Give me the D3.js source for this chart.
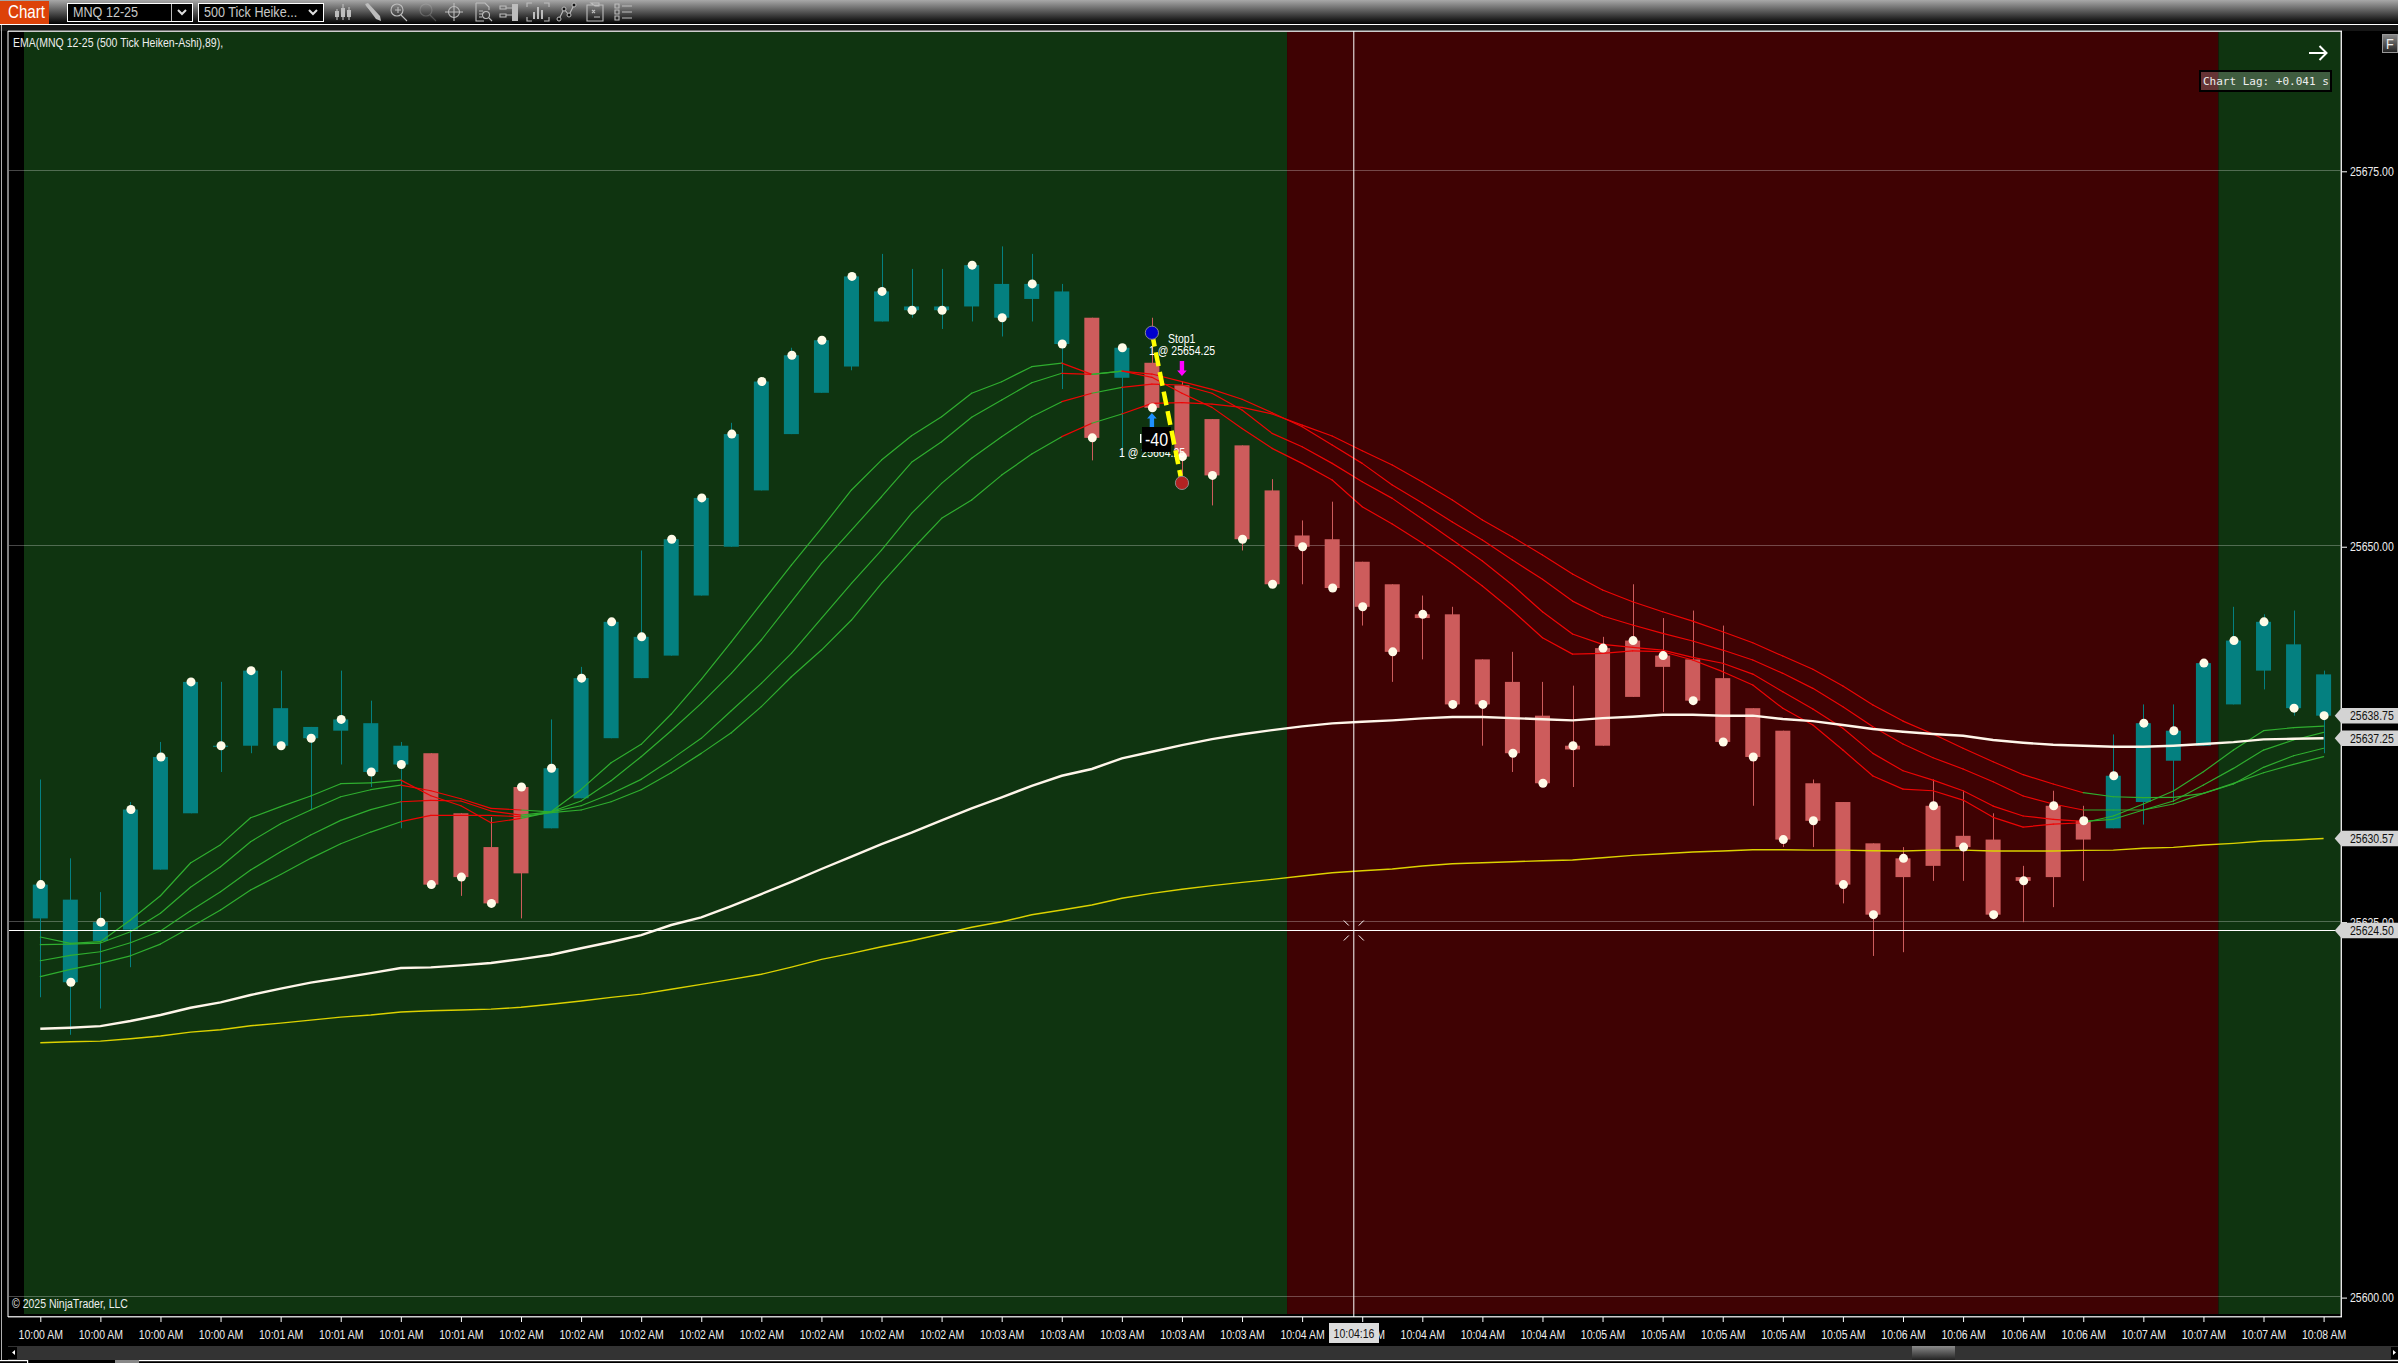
<!DOCTYPE html>
<html><head><meta charset="utf-8">
<script src="https://cdn.jsdelivr.net/npm/d3@7/dist/d3.min.js"></script>
<style>html,body{margin:0;padding:0;background:#000;overflow:hidden}svg{display:block}</style>
</head><body><div id="chart"></div>
<script>
const timeLabels = ["10:00 AM","10:00 AM","10:00 AM","10:00 AM","10:01 AM","10:01 AM","10:01 AM","10:01 AM","10:02 AM","10:02 AM","10:02 AM","10:02 AM","10:02 AM","10:02 AM","10:02 AM","10:02 AM","10:03 AM","10:03 AM","10:03 AM","10:03 AM","10:03 AM","10:04 AM","10:04 AM","10:04 AM","10:04 AM","10:04 AM","10:05 AM","10:05 AM","10:05 AM","10:05 AM","10:05 AM","10:06 AM","10:06 AM","10:06 AM","10:06 AM","10:07 AM","10:07 AM","10:07 AM","10:08 AM"];
const priceTicks = [25600,25625,25650,25675];
const opens = [25625.25,25621,25623.75,25624.5,25628.5,25632.25,25636.75,25636.75,25636.75,25637.25,25637.75,25635,25635.5,25636.25,25632.25,25630,25634,25631.25,25633.25,25637.25,25641.25,25642.75,25646.75,25650,25653.75,25657.5,25660.25,25662,25665,25665.75,25665.75,25666,25665.25,25666.5,25663.5,25665.25,25661.25,25662.25,25660.75,25658.5,25656.75,25653.75,25650.75,25650.5,25649,25647.5,25645.5,25645.5,25642.5,25641,25638.75,25636.75,25643.25,25643.75,25642.75,25642.5,25641.25,25639.25,25637.75,25634.25,25633,25630.25,25629.25,25632.75,25630.75,25630.5,25628,25632.75,25631.75,25631.25,25633,25635.75,25636.75,25639.5,25641.75,25639.25,25638.75];
const closes = [25627.5,25626.5,25625,25632.5,25636,25641,25636.75,25641.75,25639.25,25638,25638.5,25638.25,25636.75,25627.5,25628,25626.25,25628.25,25635.25,25641.25,25645,25644,25650.5,25653.25,25657.5,25661,25662.75,25663.75,25668,25667,25666,25666,25668.75,25667.5,25667.5,25667,25657.25,25663.25,25659.25,25656,25654.75,25650.5,25647.5,25650,25647.25,25646,25643,25645.25,25639.5,25639.5,25636.25,25634.25,25636.5,25636.75,25640,25642,25639.75,25637,25636,25630.5,25631.75,25627.5,25625.5,25628,25628.75,25630,25625.5,25627.75,25628,25630.5,25634.75,25638.25,25637.75,25642.25,25643.75,25645,25643.5,25641.5];
const highs = [25634.5,25629.25,25627,25633,25637,25641,25641,25641.75,25641.75,25638,25641.75,25639.75,25637,25636.25,25632.25,25632,25634,25638.5,25642,25645,25649.75,25650.5,25653.25,25658.25,25661,25663.25,25663.75,25668,25669.5,25668.5,25668.5,25668.75,25670,25669.5,25667.5,25665.25,25663.25,25665.25,25661,25658.5,25656.75,25654.5,25651.75,25653,25649,25647.5,25646.75,25646,25642.5,25643,25641,25640.75,25644,25647.5,25645.25,25645.75,25644.75,25639.25,25637.75,25634.5,25633,25630.25,25630,25634.5,25633.75,25632.25,25628.75,25633.75,25632.75,25637.5,25639.5,25639.5,25642.25,25646,25645.5,25645.75,25641.75];
const lows = [25620,25617.5,25619.25,25622,25628.5,25632.25,25635,25636.25,25636.75,25632.5,25635.5,25634,25631.25,25627.5,25626.75,25626.25,25625.25,25631.25,25633.25,25637.25,25641.25,25642.75,25646.75,25650,25653.75,25657.5,25660.25,25661.75,25665,25665.25,25664.5,25665,25664,25665,25660.5,25655.75,25656,25659.25,25654.75,25652.75,25649.75,25647.5,25647.5,25647.25,25644.75,25641,25642.5,25639.5,25636.75,25635,25634.25,25634,25636.75,25640,25639,25639.75,25637,25632.75,25630,25630,25626.25,25622.75,25623,25627.75,25627.75,25625.5,25625,25626,25627.75,25631.25,25631.5,25633,25636.75,25639.5,25640.5,25638.75,25636.25];
const dots = [25627.5,25621,25625,25632.5,25636,25641,25636.75,25641.75,25636.75,25637.25,25638.5,25635,25635.5,25627.5,25628,25626.25,25634,25635.25,25641.25,25645,25644,25650.5,25653.25,25657.5,25661,25662.75,25663.75,25668,25667,25665.75,25665.75,25668.75,25665.25,25667.5,25663.5,25657.25,25663.25,25659.25,25656,25654.75,25650.5,25647.5,25650,25647.25,25646,25643,25645.5,25639.5,25639.5,25636.25,25634.25,25636.75,25643.25,25643.75,25642.75,25639.75,25637,25636,25630.5,25631.75,25627.5,25625.5,25629.25,25632.75,25630,25625.5,25627.75,25632.75,25631.75,25634.75,25638.25,25637.75,25642.25,25643.75,25645,25639.25,25638.75];
const ribbonA = [25624.01,25623.59,25623.7,25625.14,25626.76,25628.94,25630.16,25631.95,25632.69,25633.4,25634.22,25634.28,25634.46,25633.42,25632.75,25631.62,25631.91,25632.35,25633.84,25635.62,25636.84,25638.86,25641.17,25643.67,25646.23,25648.78,25651.23,25653.78,25655.77,25657.39,25658.66,25660.22,25660.99,25661.99,25662.23,25661.48,25661.7,25661.28,25660.22,25659.28,25657.88,25656.55,25655.55,25654.44,25652.66,25651.51,25650.25,25648.89,25647.38,25645.74,25643.94,25642.85,25642.9,25643.07,25643.01,25642.46,25641.68,25640.79,25639.24,25638.13,25636.46,25634.73,25633.86,25633.75,25633.13,25631.98,25631.33,25631.53,25631.62,25632.07,25632.87,25633.73,25635.02,25636.46,25637.75,25637.95,25638.06];
const ribbonB = [25623.5,25623.54,25623.61,25624.36,25625.59,25627.32,25628.69,25630.36,25631.55,25632.47,25633.35,25633.82,25634.13,25633.75,25633.22,25632.58,25632.47,25632.35,25633.07,25634.42,25636.02,25637.75,25639.57,25641.57,25643.79,25646.34,25648.89,25651.11,25653.33,25655.62,25656.99,25658.62,25659.77,25660.92,25661.55,25661.48,25661.7,25661.5,25660.99,25660.48,25659.82,25658.92,25657.99,25656.77,25655.55,25654.11,25652.91,25651.64,25650.45,25649.11,25647.83,25646.38,25645.39,25644.79,25644.23,25643.72,25643.12,25642.46,25641.57,25640.57,25639.35,25638.01,25636.86,25635.95,25635.2,25634.35,25633.4,25632.87,25632.47,25632.47,25632.47,25632.87,25633.58,25634.2,25635.31,25636.08,25636.58];
const ribbonC = [25622.43,25622.79,25623.03,25623.63,25624.41,25625.76,25627.03,25628.47,25629.69,25630.8,25631.78,25632.49,25633.02,25633.11,25633.07,25632.4,25632.13,25632.35,25632.75,25633.55,25634.51,25635.84,25637.24,25639.08,25640.9,25642.9,25645.23,25647.56,25649.78,25652.22,25654.22,25655.89,25657.33,25658.66,25659.66,25660.22,25660.61,25660.83,25660.77,25660.22,25659.1,25657.55,25656.66,25655.55,25654.33,25653.22,25651.84,25650.45,25649.05,25647.45,25645.67,25644.19,25643.5,25643.3,25643.12,25642.63,25642.24,25641.52,25640.34,25639.19,25637.91,25636.24,25635.08,25634.46,25633.75,25632.73,25632.07,25631.85,25631.71,25631.85,25632.47,25633.07,25634.13,25635.24,25636.46,25637.13,25637.64];
const ribbonD = [25621.37,25621.86,25622.26,25622.76,25623.54,25624.66,25625.81,25627.14,25628.18,25629.25,25630.22,25631,25631.69,25632.11,25632.11,25632.11,25632.02,25632.3,25632.47,25633.02,25633.82,25634.95,25636.24,25637.61,25639.35,25641.34,25643.12,25645.12,25647.56,25649.78,25651.89,25653.11,25654.77,25656.17,25657.33,25658.22,25658.84,25659.55,25659.59,25659.5,25659.28,25658.84,25658.1,25657.37,25656.39,25655.44,25654.31,25653.11,25651.78,25650.65,25649.45,25648.18,25647.12,25646.34,25645.67,25645.05,25644.34,25643.61,25642.72,25641.84,25640.72,25639.46,25638.39,25637.53,25636.58,25635.68,25634.82,25634.2,25633.62,25633.35,25633.29,25633.31,25633.58,25634.24,25634.95,25635.51,25636.02];
const emaWhite = [25617.9,25617.97,25618.08,25618.42,25618.82,25619.3,25619.66,25620.15,25620.57,25620.97,25621.28,25621.61,25621.95,25621.99,25622.12,25622.28,25622.54,25622.83,25623.26,25623.68,25624.14,25624.81,25625.32,25626.07,25626.87,25627.69,25628.54,25629.36,25630.2,25630.96,25631.78,25632.58,25633.31,25634.08,25634.75,25635.2,25635.91,25636.35,25636.79,25637.19,25637.51,25637.79,25638.04,25638.24,25638.35,25638.44,25638.57,25638.66,25638.66,25638.59,25638.51,25638.44,25638.59,25638.68,25638.81,25638.81,25638.75,25638.75,25638.53,25638.39,25638.13,25637.86,25637.68,25637.53,25637.41,25637.13,25636.95,25636.81,25636.75,25636.68,25636.68,25636.75,25636.86,25636.99,25637.17,25637.21,25637.25];
const emaYellow = [25616.97,25617.04,25617.08,25617.24,25617.42,25617.68,25617.84,25618.1,25618.28,25618.48,25618.68,25618.82,25619.02,25619.1,25619.15,25619.21,25619.33,25619.53,25619.75,25619.99,25620.21,25620.53,25620.86,25621.19,25621.53,25622.01,25622.52,25622.92,25623.36,25623.76,25624.21,25624.66,25625.03,25625.49,25625.81,25626.14,25626.59,25626.92,25627.19,25627.43,25627.65,25627.85,25628.07,25628.29,25628.42,25628.54,25628.74,25628.89,25628.96,25629.02,25629.09,25629.14,25629.29,25629.45,25629.56,25629.67,25629.74,25629.82,25629.82,25629.8,25629.8,25629.76,25629.74,25629.8,25629.8,25629.74,25629.74,25629.74,25629.78,25629.8,25629.92,25629.98,25630.14,25630.25,25630.4,25630.47,25630.57];
const greenSpans = [[0,12],[16,34],[35,36],[68,76]];
const regimeBands = [{from:-1,to:41.5,kind:"up"},{from:41.5,to:72.5,kind:"down"},{from:72.5,to:78,kind:"up"}];
const priceFlags = [{v:25638.75,t:"25638.75"},{v:25637.25,t:"25637.25"},{v:25630.57,t:"25630.57"},{v:25624.5,t:"25624.50"}];
const tradeEntry = {bar:37,price:25664.25}, tradeExit = {bar:38,price:25654.25};
const crossPrice = 25624.5, crossBar = 43.72, crossTime = "10:04:16";

const W=2398,H=1363,plotL=24,plotR=2340.5,plotT=32,plotB=1314;
const NARROW='"Liberation Sans",Arial,sans-serif';
const x=d3.scaleLinear().domain([0,76]).range([40.3,2323.6]);
const y=d3.scaleLinear().domain([25600,25675]).range([1297.6,171.3]);
const svg=d3.select("#chart").append("svg").attr("width",W).attr("height",H).attr("viewBox",`0 0 ${W} ${H}`);
const defs=svg.append("defs");
const tg=defs.append("linearGradient").attr("id","tb").attr("x1",0).attr("y1",0).attr("x2",0).attr("y2",1);
tg.append("stop").attr("offset",0).attr("stop-color","#a8a8a8");tg.append("stop").attr("offset",1).attr("stop-color","#000");
const fg=defs.append("linearGradient").attr("id","fb").attr("x1",0).attr("y1",0).attr("x2",0).attr("y2",1);
fg.append("stop").attr("offset",0).attr("stop-color","#8a8a8a");fg.append("stop").attr("offset",1).attr("stop-color","#222");
defs.append("clipPath").attr("id","plot").append("rect").attr("x",plotL).attr("y",plotT).attr("width",plotR-plotL).attr("height",plotB-plotT);

svg.append("rect").attr("width",W).attr("height",H).attr("fill","#000");
// toolbar
svg.append("rect").attr("width",W).attr("height",24).attr("fill","url(#tb)");
svg.append("rect").attr("y",24).attr("width",W).attr("height",1.2).attr("fill","#fff");
svg.append("rect").attr("y",25).attr("width",W).attr("height",6).attr("fill","#161616");
svg.append("rect").attr("x",0).attr("y",1).attr("width",49).attr("height",23).attr("fill","#dd4208");
svg.append("text").attr("x",8).attr("y",18).attr("fill","#fff").attr("font-family",NARROW).attr("font-size",18).text("Chart");
function combo(x0,x1,label,div){
  svg.append("rect").attr("x",x0+.5).attr("y",3.5).attr("width",x1-x0).attr("height",18).attr("fill","#000").attr("stroke","#fff");
  if(div) svg.append("line").attr("x1",div+.5).attr("x2",div+.5).attr("y1",4).attr("y2",21).attr("stroke","#bbb");
  svg.append("text").attr("x",x0+6).attr("y",17).attr("fill","#c8c8c8").attr("font-family",NARROW).attr("font-size",15).text(label);
  svg.append("path").attr("d",`M${x1-14},10 l4,4 l4,-4`).attr("fill","none").attr("stroke","#ddd").attr("stroke-width",2);
}
combo(67,192,"MNQ 12-25",171);combo(198,323,"500 Tick Heike...");
const ICON="#bdbdbd";
const icons=[
 [343,"M-6,-3v11M0,-8v16M6,-5v13","M-8,-1h4v6h-4zM-2,-4h4v9h-4zM4,-2h4v7h-4z"],
 [372,"M-6,-7L5,6","M-7,-8l3,-1l12,13l1,5l-5,-2z"],
 [398,"M3,3L9,9M-3,-2h6M0,-5v6","" ,[-1,-2,6]],
 [427,"M3,3L9,9","",[-1,-2,6],.28],
 [454,"M0,-9V9M-9,0H9","",[0,0,5.5]],
 [483,"M-7,-9h9l4,4v3M-7,-9V9H1M-4,-1h4M-4,2h3M-4,5h3M6,6l3,3","",[3,3,3.5]],
 [511,"M-11,-6h6v3h-6zM-11,2h6v3h-6zM-5,-4H1M-5,3H1","M1,-8h6V9H1z"],
 [538,"M-11,-5v-4h5M6,-9h5v4M-11,5v4h5M6,9h5v-4","M-5,0h2v7h-2zM-1,-5h2v12h-2zM3,-2h2v9h-2z"],
 [566,"M-7,7L-2,-3L3,3L8,-7","",null,1,[[-7,7],[-2,-3],[3,3],[8,-7]]],
 [595,"M-8,-7h16V9H-8zM-4,-9h8v3h-4zM-3,-2l3,3M0,-2l-3,3M-1,5h6","" ],
 [623,"M-8,-8h4v4h-4zM-8,-2h4v4h-4zM-8,4h4v4h-4zM-1,-6H9M-1,0H9M-1,6H9",""]
];
icons.forEach(c=>{
  const g=svg.append("g").attr("transform",`translate(${c[0]},12)`).attr("opacity",c[4]||1);
  if(c[1]) g.append("path").attr("d",c[1]).attr("fill","none").attr("stroke",ICON).attr("stroke-width",1.1);
  if(c[2]) g.append("path").attr("d",c[2]).attr("fill",ICON);
  if(c[3]) g.append("circle").attr("cx",c[3][0]).attr("cy",c[3][1]).attr("r",c[3][2]).attr("fill","none").attr("stroke",ICON).attr("stroke-width",1.1);
  if(c[5]) c[5].forEach(p=>g.append("circle").attr("cx",p[0]).attr("cy",p[1]).attr("r",2).attr("fill","#111").attr("stroke",ICON));
});
// plot frame and background
svg.append("rect").attr("x",8).attr("y",31).attr("width",plotR-8).attr("height",plotB+3-31).attr("fill","#000");
svg.selectAll("rect.band").data(regimeBands).join("rect").attr("class","band")
  .attr("clip-path","url(#plot)")
  .attr("x",d=>x(d.from)).attr("width",d=>x(d.to)-x(d.from)).attr("y",plotT).attr("height",plotB-plotT)
  .attr("fill",d=>d.kind==="up"?"#0f3410":"#3f0203");
svg.append("rect").attr("x",1).attr("y",25).attr("width",.8).attr("height",1335).attr("fill","#ddd");
svg.append("rect").attr("x",7.5).attr("y",31).attr("width",1).attr("height",1286).attr("fill","#fff");
svg.append("rect").attr("x",8).attr("y",30.6).attr("width",2334).attr("height",1.2).attr("fill","#fff");
svg.append("rect").attr("x",2340.6).attr("y",31).attr("width",1.3).attr("height",1286).attr("fill","#fff");
svg.append("rect").attr("x",8).attr("y",1316.2).attr("width",2334).attr("height",1.2).attr("fill","#fff");
// grid
svg.append("g").selectAll("line").data(priceTicks).join("line")
  .attr("x1",9).attr("x2",plotR).attr("y1",d=>Math.floor(y(d))-.5).attr("y2",d=>Math.floor(y(d))-.5)
  .attr("stroke","#fff").attr("stroke-opacity",.28);
// candles
const bars=d3.range(opens.length);
const up=i=>closes[i]>=opens[i];
const TEAL="#048080",RED="#cd5c5c";
const cg=svg.append("g").attr("clip-path","url(#plot)");
cg.selectAll("line.w").data(bars).join("line").attr("class","w")
  .attr("x1",i=>Math.round(x(i))+.5).attr("x2",i=>Math.round(x(i))+.5)
  .attr("y1",i=>y(highs[i])).attr("y2",i=>y(lows[i]))
  .attr("stroke",i=>up(i)?TEAL:RED).attr("stroke-width",1);
cg.selectAll("rect.b").data(bars).join("rect").attr("class","b")
  .attr("x",i=>x(i)-7.5).attr("width",15)
  .attr("y",i=>y(Math.max(opens[i],closes[i])))
  .attr("height",i=>Math.max(1.2,Math.abs(y(opens[i])-y(closes[i]))))
  .attr("fill",i=>up(i)?TEAL:RED);
// EMAs
const lineGen=d3.line().x((v,i)=>x(i)).y(v=>y(v));
function ribbon(vals){
  const g=svg.append("g").attr("clip-path","url(#plot)");
  d3.range(vals.length-1).forEach(i=>{
    const green=greenSpans.some(s=>i>=s[0]&&i<s[1]);
    g.append("line").attr("x1",x(i)).attr("x2",x(i+1)).attr("y1",y(vals[i])).attr("y2",y(vals[i+1]))
     .attr("stroke",green?"#2fae2f":"#ee0505").attr("stroke-width",1.2).attr("stroke-linecap","round");
  });
}
[ribbonD,ribbonC,ribbonB,ribbonA].forEach(ribbon);
svg.append("path").attr("d",lineGen(emaYellow)).attr("fill","none").attr("stroke","#dcd200").attr("stroke-width",1.4);
svg.append("path").attr("d",lineGen(emaWhite)).attr("fill","none").attr("stroke","#fff6ea").attr("stroke-width",2.4);
// close markers
svg.append("g").selectAll("circle").data(bars).join("circle")
  .attr("cx",i=>x(i)+.5).attr("cy",i=>y(dots[i])).attr("r",4.5).attr("fill","#fffbe8");
// trade
const ax=x(tradeEntry.bar),ay=y(tradeEntry.price),bx=x(tradeExit.bar),by=y(tradeExit.price);
const SMALL={"font-family":NARROW,"font-size":12.5,"fill":"#fff"};
function label(t,px,py,st,anchor){const n=svg.append("text").attr("x",px).attr("y",py).attr("text-anchor",anchor||"start").text(t);Object.entries(st).forEach(([k,v])=>n.attr(k,v));return n;}
label("1 @ 25664.25",1119,457,SMALL);
svg.append("rect").attr("x",1142).attr("y",427).attr("width",29).attr("height",25).attr("fill","#000");
svg.append("rect").attr("x",1140).attr("y",434).attr("width",1.4).attr("height",9).attr("fill","#fff");
label("-40",1156.5,445.5,{"font-family":NARROW,"font-size":19,"fill":"#fff"},"middle");
label("Stop1",1168,343,SMALL);
label("1 @ 25654.25",1149,355,SMALL);
svg.append("line").attr("x1",ax).attr("y1",ay).attr("x2",bx).attr("y2",by).attr("stroke","#ffff00").attr("stroke-width",4.5).attr("stroke-dasharray","14 6");
svg.append("circle").attr("cx",ax).attr("cy",ay).attr("r",6.6).attr("fill","#0000cd").attr("stroke","#8a8a8a").attr("stroke-width",1);
svg.append("circle").attr("cx",bx).attr("cy",by).attr("r",6.6).attr("fill","#b22222").attr("stroke","#8a8a8a").attr("stroke-width",1);
svg.append("path").attr("transform",`translate(${ax},413)`).attr("d","M0,0l4.8,5.5h-2.6v8.5h-4.4v-8.5h-2.6z").attr("fill","#1e90ff");
svg.append("path").attr("transform",`translate(${bx},376)`).attr("d","M0,0l-4.8,-5.5h2.6v-9.5h4.4v9.5h2.6z").attr("fill","#ff00ff");
// texts in plot
svg.append("text").attr("x",13).attr("y",47).attr("fill","#eee").attr("font-family",NARROW).attr("font-size",12.5).text("EMA(MNQ 12-25 (500 Tick Heiken-Ashi),89),");
svg.append("text").attr("x",12).attr("y",1307.5).attr("fill","#eee").attr("font-family",NARROW).attr("font-size",12.5).text("© 2025 NinjaTrader, LLC");
// axes
const xa=d3.axisBottom(x).tickValues(d3.range(0,77,2)).tickSize(5).tickPadding(8).tickFormat(d=>timeLabels[d/2]);
const gx=svg.append("g").attr("transform","translate(0,1317)").call(xa);
const ya=d3.axisRight(y).tickValues(priceTicks).tickSize(5).tickPadding(3).tickFormat(d3.format(".2f"));
const gy=svg.append("g").attr("transform",`translate(2342,0)`).call(ya);
[gx,gy].forEach(g=>{g.select(".domain").remove();g.selectAll("line").attr("stroke","#fff");g.selectAll("text").attr("fill","#eee").attr("font-family",NARROW).attr("font-size",12.5);});
// crosshair
const cxp=x(crossBar),cyp=Math.round(y(crossPrice))+.5;
svg.append("line").attr("x1",cxp).attr("x2",cxp).attr("y1",31).attr("y2",1317).attr("stroke","#fff");
svg.append("line").attr("x1",9).attr("x2",plotR).attr("y1",cyp).attr("y2",cyp).attr("stroke","#fff").attr("stroke-width",1.2);
[[-1,-1],[1,-1],[-1,1],[1,1]].forEach(s=>{
  svg.append("line").attr("x1",cxp+s[0]*5).attr("y1",cyp+s[1]*5).attr("x2",cxp+s[0]*10).attr("y2",cyp+s[1]*10).attr("stroke","#fff");
});
// flags
priceFlags.forEach(f=>{
  const c=f.v===crossPrice?cyp:y(f.v);
  svg.append("path").attr("transform",`translate(0,${c})`).attr("d","M2334.7,0L2341.5,-7.8H2398V7.8H2341.5Z").attr("fill","#d3d3d3");
  svg.append("text").attr("x",2350).attr("y",c+4.4).attr("fill","#111").attr("font-family",NARROW).attr("font-size",12.5).text(f.t);
});
// crosshair time
svg.append("rect").attr("x",1329).attr("y",1323).attr("width",50).attr("height",20).attr("fill","#dcdcdc");
svg.append("text").attr("x",1354).attr("y",1337.5).attr("text-anchor","middle").attr("fill","#111").attr("font-family",NARROW).attr("font-size",12.5).text(crossTime);
// chart lag
svg.append("rect").attr("x",2200).attr("y",71).attr("width",131).attr("height",20).attr("fill","#fff").attr("fill-opacity",.2).attr("stroke","#000").attr("stroke-width",2);
svg.append("text").attr("x",2203).attr("y",85).attr("fill","#eee").attr("font-family","'DejaVu Sans Mono',monospace").attr("font-size",11).text("Chart Lag: +0.041 s");
svg.append("path").attr("d","M2309,53H2326M2319.5,46L2326.5,53L2319.5,60").attr("fill","none").attr("stroke","#fff").attr("stroke-width",2);
svg.append("rect").attr("x",2382.5).attr("y",34.5).attr("width",15).attr("height",18).attr("fill","url(#fb)").attr("stroke","#999");
svg.append("text").attr("x",2386).attr("y",49).attr("fill","#eee").attr("font-family",NARROW).attr("font-size",15).text("F");
// scroll bar
svg.append("rect").attr("x",8).attr("y",1346).attr("width",2390).attr("height",14).attr("fill","#333");
svg.append("rect").attr("x",8).attr("y",1347).attr("width",9).attr("height",12).attr("fill","#000");
svg.append("path").attr("d","M15,1350v5l-3,-2.5z").attr("fill","#fff");
svg.append("rect").attr("x",2391).attr("y",1347).attr("width",7).attr("height",12).attr("fill","#000");
svg.append("path").attr("d","M2393,1350v5l3,-2.5z").attr("fill","#fff");
svg.append("rect").attr("x",1912).attr("y",1346).attr("width",43).attr("height",14).attr("fill","url(#fb)");
svg.append("rect").attr("x",0).attr("y",1360).attr("width",27).attr("height",1.2).attr("fill","#fff");
svg.append("rect").attr("x",115).attr("y",1360).attr("width",2283).attr("height",1.2).attr("fill","#fff");
svg.append("rect").attr("x",27).attr("y",1360).attr("width",1.2).attr("height",3).attr("fill","#fff");
svg.append("rect").attr("x",115).attr("y",1360).attr("width",24).attr("height",3).attr("fill","#888");
// the platform's sans text is condensed: squeeze real text horizontally
svg.selectAll("text").filter(function(){return this.getAttribute("font-family")===NARROW;}).each(function(){
  const L=this.getComputedTextLength();
  d3.select(this).attr("textLength",L*0.84).attr("lengthAdjust","spacingAndGlyphs");
});
</script></body></html>
